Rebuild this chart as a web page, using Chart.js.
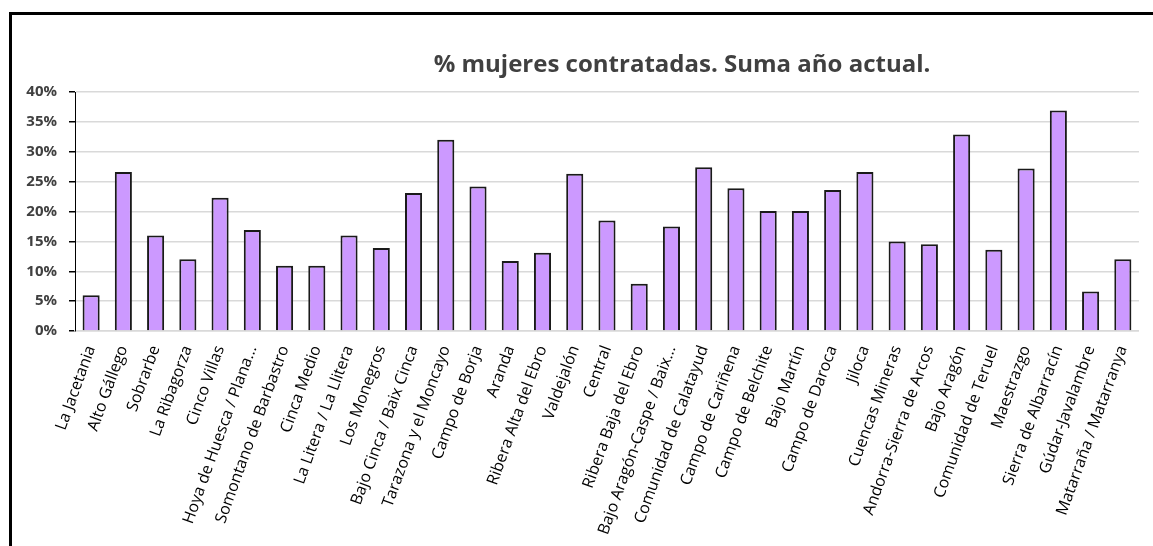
<!DOCTYPE html>
<html>
<head>
<meta charset="utf-8">
<script src="https://cdn.jsdelivr.net/npm/chart.js@4/dist/chart.umd.min.js"></script>
<style>
  html, body { margin: 0; padding: 0; background: #fff; overflow: hidden; }
  .wrap { position: absolute; left: 0; top: 0; width: 1153px; height: 546px; }
  .frame { position: absolute; left: 9px; top: 12px; width: 1200px; height: 600px;
           border: 3px solid #000; pointer-events: none; }
</style>
</head>
<body>
<div class="wrap"><canvas class="my-chart"></canvas></div>
<div class="frame"></div>
<script>
const titleText = "% mujeres contratadas. Suma año actual.";

const comarcas = [
  "La Jacetania", "Alto Gállego", "Sobrarbe", "La Ribagorza", "Cinco Villas",
  "Hoya de Huesca / Plana...", "Somontano de Barbastro", "Cinca Medio",
  "La Litera / La Llitera", "Los Monegros", "Bajo Cinca / Baix Cinca",
  "Tarazona y el Moncayo", "Campo de Borja", "Aranda", "Ribera Alta del Ebro",
  "Valdejalón", "Central", "Ribera Baja del Ebro", "Bajo Aragón-Caspe / Baix...",
  "Comunidad de Calatayud", "Campo de Cariñena", "Campo de Belchite",
  "Bajo Martín", "Campo de Daroca", "Jiloca", "Cuencas Mineras",
  "Andorra-Sierra de Arcos", "Bajo Aragón", "Comunidad de Teruel",
  "Maestrazgo", "Sierra de Albarracín", "Gúdar-Javalambre",
  "Matarraña / Matarranya",
];

// % de mujeres contratadas
const porcentajes = [
  6.0, 26.6, 16.0, 12.0, 22.3,
  16.9, 10.9, 10.9,
  16.0, 13.9, 23.1,
  32.0, 24.2, 11.7, 13.1,
  26.3, 18.5, 7.9, 17.5,
  27.4, 23.9, 20.1,
  20.1, 23.6, 26.6, 15.0,
  14.5, 32.9, 13.6,
  27.2, 36.9, 6.6,
  12.0,
];

const yTicks = [0, 5, 10, 15, 20, 25, 30, 35, 40];

const chartTitle = {
  id: "chartTitle",
  afterDraw(chart) {
    const ctx = chart.ctx;
    ctx.save();
    ctx.font = "bold 24px 'Open Sans'";
    ctx.fillStyle = "#404040";
    ctx.textAlign = "center";
    ctx.textBaseline = "alphabetic";
    ctx.fillText(titleText, 682, 72);
    ctx.restore();
  },
};

const myChart = document.querySelector(".my-chart");

new Chart(myChart, {
  type: "bar",
  data: {
    labels: comarcas,
    datasets: [
      {
        label: "% mujeres contratadas",
        data: porcentajes,
        backgroundColor: "#cc99ff",
        borderColor: "#1a1a1a",
        borderWidth: 2,
        borderSkipped: "bottom",
        barPercentage: 0.53,
        categoryPercentage: 1,
      },
    ],
  },
  options: {
    responsive: true,
    maintainAspectRatio: false,
    animation: false,
    layout: { padding: { left: 0, right: 8, top: 92, bottom: 0 } },
    plugins: {
      legend: { display: false },
      tooltip: { enabled: false },
    },
    scales: {
      x: {
        grid: { display: false, drawTicks: false },
        border: { color: "#d9d9d9", width: 1.5 },
        ticks: {
          autoSkip: false,
          minRotation: 70,
          maxRotation: 70,
          padding: 12,
          color: "#000",
          font: { family: "'Open Sans'", size: 16 },
        },
        afterFit: (scale) => { scale.height = 215; },
      },
      y: {
        min: 0,
        max: 40,
        afterBuildTicks: (scale) => { scale.ticks = yTicks.map((v) => ({ value: v })); },
        grid: { color: "#d9d9d9", lineWidth: 1.5, tickColor: "#000", tickLength: 6 },
        border: { color: "#000", width: 1 },
        ticks: {
          padding: 12,
          color: "#404040",
          font: { family: "'Open Sans'", size: 15, weight: "bold" },
          callback: (v) => v + "%",
        },
        afterFit: (scale) => { scale.width = 75; },
      },
    },
  },
  plugins: [chartTitle],
});
</script>
</body>
</html>
